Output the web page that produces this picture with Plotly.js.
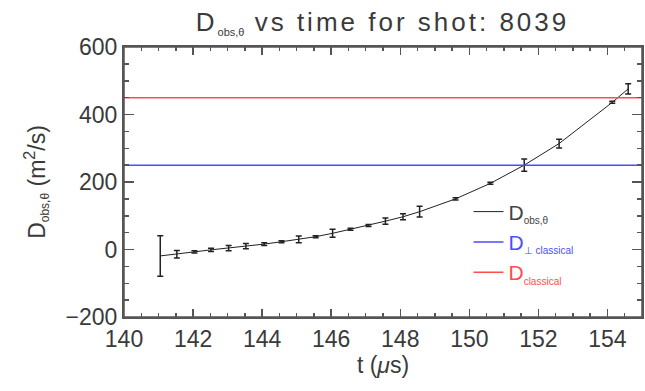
<!DOCTYPE html>
<html><head><meta charset="utf-8">
<script src="https://cdn.plot.ly/plotly-3.0.1.min.js"></script>
<style>body{margin:0;background:#fff}#chart{width:645px;height:391px}</style>
</head><body><div id="chart"></div>
<script>
// Data
const tValues = [141.05, 141.53, 142.04, 142.52, 143.03, 143.53, 144.06, 144.56, 145.06, 145.55, 146.04, 146.56, 147.08, 147.57, 148.08, 148.56, 149.6, 150.61, 151.59, 152.6, 154.14, 154.6];
const dObs = [-19, -14, -7, -1, 4, 10, 16, 23, 30, 38, 48, 60, 71, 84, 97, 112, 150, 196, 250, 314, 436, 476];
const dErr = [60, 11, 3, 5, 8, 8, 4, 3, 10, 3, 12, 3, 3, 9, 9, 16, 3, 3, 18, 13, 3, 15];
const dPerpClassical = 250;
const dClassical = 450;
const xRange = [140, 155];
const yRange = [-200, 600];

const txt = '#3a3a3a';
const font = 'Liberation Sans, Arial, sans-serif';
const blue = '#4d4dff';
const red = '#ff4d4d';
const axisColor = '#555';

const traces = [
  {
    x: tValues, y: dObs, type: 'scatter', mode: 'lines',
    line: {color: '#222', width: 1},
    error_y: {type: 'data', array: dErr, visible: true, color: '#222', thickness: 1.5, width: 3},
    name: '<span style="color:#444">D<sub><span style="font-size:10px">obs,θ</span></sub></span>'
  },
  {
    x: xRange, y: [dPerpClassical, dPerpClassical], type: 'scatter', mode: 'lines',
    line: {color: blue, width: 1.5},
    name: '<span style="color:' + blue + '">D<sub><span style="font-size:10px">⊥ classical</span></sub></span>'
  },
  {
    x: xRange, y: [dClassical, dClassical], type: 'scatter', mode: 'lines',
    line: {color: red, width: 1.5},
    name: '<span style="color:' + red + '">D<sub><span style="font-size:10px">classical</span></sub></span>'
  }
];

const axisCommon = {
  showline: true, linecolor: axisColor, linewidth: 2, mirror: 'allticks',
  ticks: 'inside', tickcolor: axisColor, tickwidth: 1.5,
  showgrid: false, zeroline: false,
  tickfont: {family: font, size: 23, color: txt}
};

const layout = {
  width: 645, height: 391,
  margin: {l: 124, r: 3, t: 47, b: 74},
  paper_bgcolor: '#fff', plot_bgcolor: '#fff',
  font: {family: font, color: txt},
  title: {
    text: '<span style="letter-spacing:3px">D<sub><span style="font-size:11px;letter-spacing:0px">obs,θ</span></sub> vs time for shot: 8039</span>',
    font: {family: font, size: 26, color: txt},
    x: 0.593, xanchor: 'center', y: 0.945, yanchor: 'middle'
  },
  xaxis: Object.assign({}, axisCommon, {
    range: xRange, dtick: 2, tick0: 140, ticklen: 8,
    minor: {dtick: 0.5, ticks: 'inside', ticklen: 4},
    title: {text: 't (<i>μ</i>s)', font: {family: font, size: 23, color: txt}, standoff: 6}
  }),
  yaxis: Object.assign({}, axisCommon, {
    range: yRange, dtick: 200, tick0: 0, ticklen: 10,
    minor: {dtick: 50, ticks: 'inside', ticklen: 5},
    title: {text: 'D<sub><span style="font-size:12px">obs,θ</span></sub> (m<sup>2</sup>/s)', font: {family: font, size: 23, color: txt}, standoff: 14}
  }),
  shapes: [{
    type: 'rect', xref: 'paper', yref: 'paper', x0: 0, x1: 1, y0: 0, y1: 1,
    line: {color: axisColor, width: 1.5}, fillcolor: 'rgba(0,0,0,0)', layer: 'above'
  }],
  showlegend: true,
  legend: {
    x: 0.665, y: 0.465, xanchor: 'left', yanchor: 'top',
    bgcolor: 'rgba(0,0,0,0)', font: {family: font, size: 21, color: txt},
    itemwidth: 30, tracegroupgap: 0
  }
};

Plotly.newPlot('chart', traces, layout, {displayModeBar: false, staticPlot: true});
</script>
</body></html>
